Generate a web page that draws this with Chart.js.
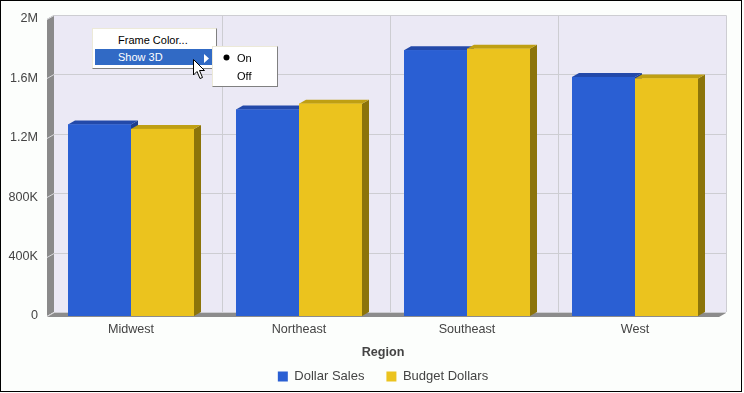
<!DOCTYPE html>
<html>
<head>
<meta charset="utf-8">
<script src="https://cdn.jsdelivr.net/npm/chart.js@4.4.0/dist/chart.umd.min.js"></script>
<style>
  html, body { margin: 0; padding: 0; background: #fcfefc; }
  #wrap { position: relative; width: 744px; height: 393px; overflow: hidden; }
  #frame { position: absolute; left: 0; top: 0; width: 742px; height: 392px; border: 1px solid #000; box-sizing: border-box; pointer-events: none; }
  .menu { position: absolute; background: #fff; box-sizing: border-box;
          border: 1px solid; border-color: #ece9d8 #808080 #808080 #ece9d8;
          font: 11px "Liberation Sans", Arial, sans-serif; color: #000; }
  .item { position: absolute; height: 16px; line-height: 16px; white-space: nowrap; }
  .hl { position: absolute; background: #316ac5; }
</style>
</head>
<body>
<div id="wrap">
  <canvas id="salesChart" width="744" height="393"></canvas>
  <div id="frame"></div>

  <!-- popup menu -->
  <div class="menu" style="left:92px; top:28px; width:125px; height:41px;">
    <div class="item" style="left:25px; top:3px;">Frame Color...</div>
    <div class="hl" style="left:2px; top:20px; width:120px; height:16px;"></div>
    <div class="item" style="left:25px; top:20px; color:#fff;">Show 3D</div>
    <svg style="position:absolute; left:111px; top:25px;" width="6" height="9"><polygon points="0,0 5,4.5 0,9" fill="#fff"/></svg>
  </div>
  <div class="menu" style="left:212px; top:46px; width:66px; height:41px;">
    <svg style="position:absolute; left:10px; top:7px;" width="7" height="7"><circle cx="3.5" cy="3.5" r="3" fill="#000"/></svg>
    <div class="item" style="left:24px; top:3px;">On</div>
    <div class="item" style="left:24px; top:21px;">Off</div>
  </div>
  <svg style="position:absolute; left:193px; top:59px;" width="14" height="22">
    <polygon points="0.5,0.5 0.5,16 4,12.5 7,19.5 9.5,18.5 6.5,11.5 11.5,11.5" fill="#fff" stroke="#000" stroke-width="1"/>
  </svg>
</div>

<script>
// chart values
const regions = ['Midwest', 'Northeast', 'Southeast', 'West'];
const dollarSales = [1290000, 1390000, 1790000, 1610000];
const budgetDollars = [1260000, 1430000, 1800000, 1600000];
const yTicks = [0, 400000, 800000, 1200000, 1600000, 2000000];

const DX = 7, DY = 4;  // depth of the 3D effect

function formatTick(v) {
    if (v === 0) return '0';
    if (v >= 1000000) return (v / 1000000) + 'M';
    return (v / 1000) + 'K';
}

function shade(ctx, pts, color) {
    ctx.beginPath();
    ctx.moveTo(pts[0][0], pts[0][1]);
    for (let i = 1; i < pts.length; i++) ctx.lineTo(pts[i][0], pts[i][1]);
    ctx.closePath();
    ctx.fillStyle = color;
    ctx.fill();
}

const faceColors = [
    { front: '#2a5fd3', top: '#2349a9', side: '#1d3d8f' },
    { front: '#ebc31e', top: '#bf9f13', side: '#8c740a' }
];

// walls, floor and grid, drawn in the back plane
const backPlane = {
    id: 'backPlane',
    beforeDatasetsDraw(chart) {
        const { ctx, chartArea: a, scales: { x, y } } = chart;
        ctx.save();
        ctx.fillStyle = '#ebe9f5';
        ctx.fillRect(a.left + DX, a.top - DY, a.right - a.left, a.bottom - a.top);

        ctx.lineWidth = 1;
        ctx.strokeStyle = '#cdcdd2';
        yTicks.forEach(v => {
            const py = Math.round(y.getPixelForValue(v)) - DY + 0.5;
            ctx.beginPath();
            ctx.moveTo(a.left + DX, py);
            ctx.lineTo(a.right + DX, py);
            ctx.stroke();
        });
        for (let i = 1; i < regions.length; i++) {
            const px = Math.round((x.getPixelForValue(i - 1) + x.getPixelForValue(i)) / 2) + DX + 0.5;
            ctx.beginPath();
            ctx.moveTo(px, a.top - DY);
            ctx.lineTo(px, a.bottom - DY);
            ctx.stroke();
        }
        ctx.beginPath();
        ctx.moveTo(a.left + DX, a.top - DY + 0.5);
        ctx.lineTo(a.right + DX + 0.5, a.top - DY + 0.5);
        ctx.lineTo(a.right + DX + 0.5, a.bottom - DY);
        ctx.stroke();

        // left wall
        shade(ctx, [[a.left, a.top], [a.left + DX, a.top - DY], [a.left + DX, a.bottom - DY], [a.left, a.bottom]], '#8a8a8a');
        ctx.strokeStyle = '#d8d8dc';
        yTicks.forEach(v => {
            const py = Math.round(y.getPixelForValue(v)) + 0.5;
            ctx.beginPath();
            ctx.moveTo(a.left, py);
            ctx.lineTo(a.left + DX, py - DY);
            ctx.stroke();
        });
        // floor
        shade(ctx, [[a.left, a.bottom + 1], [a.left + DX, a.bottom - DY + 1], [a.right + DX, a.bottom - DY + 1], [a.right, a.bottom + 1]], '#8c8c8c');
        ctx.restore();
    },
    afterDatasetsDraw(chart) {
        const { ctx } = chart;
        ctx.save();
        for (let i = 0; i < regions.length; i++) {
            for (let d = 0; d < chart.data.datasets.length; d++) {
                const bar = chart.getDatasetMeta(d).data[i];
                const p = bar.getProps(['x', 'y', 'base', 'width'], true);
                const x0 = p.x - p.width / 2, x1 = p.x + p.width / 2;
                const c = faceColors[d];
                shade(ctx, [[x1, p.y], [x1 + DX, p.y - DY], [x1 + DX, p.base - DY], [x1, p.base]], c.side);
                shade(ctx, [[x0, p.y], [x0 + DX, p.y - DY], [x1 + DX, p.y - DY], [x1, p.y]], c.top);
                ctx.fillStyle = c.front;
                ctx.fillRect(x0, p.y, x1 - x0, p.base - p.y);
            }
        }
        ctx.restore();
    }
};

const textFont = { family: '"Liberation Sans", Arial, sans-serif', size: 12.6 };
const legendFont = { family: textFont.family, size: 13 };

const ctx = document.getElementById('salesChart').getContext('2d');
const chart = new Chart(ctx, {
    type: 'bar',
    data: {
        labels: regions,
        datasets: [{
            label: 'Dollar Sales',
            data: dollarSales,
            backgroundColor: faceColors[0].front,
            borderWidth: 0
        }, {
            label: 'Budget Dollars',
            data: budgetDollars,
            backgroundColor: faceColors[1].front,
            borderWidth: 0
        }]
    },
    options: {
        responsive: false,
        animation: false,
        layout: { padding: { left: 0, right: 25, top: 19, bottom: 0 } },
        datasets: { bar: { categoryPercentage: 0.75, barPercentage: 1.0 } },
        scales: {
            x: {
                grid: { display: false, drawTicks: false },
                border: { display: false },
                ticks: { font: textFont, color: '#444', padding: 6 },
                title: {
                    display: true, text: 'Region', color: '#444',
                    font: { family: textFont.family, size: 12.6, weight: 'bold' },
                    padding: { top: 0, bottom: -12 }
                },
                afterFit(scale) { scale.height = 32; }
            },
            y: {
                min: 0,
                max: 2000000,
                grid: { display: false, drawTicks: false },
                border: { display: false },
                ticks: { stepSize: 400000, font: textFont, color: '#444', padding: 9, callback: formatTick },
                afterFit(scale) { scale.width = 47; }
            }
        },
        plugins: {
            legend: {
                position: 'bottom',
                fullSize: false,
                labels: { boxWidth: 10, boxHeight: 10, padding: 22, font: legendFont, color: '#444' }
            },
            tooltip: { enabled: false }
        }
    },
    plugins: [backPlane]
});
</script>
</body>
</html>
